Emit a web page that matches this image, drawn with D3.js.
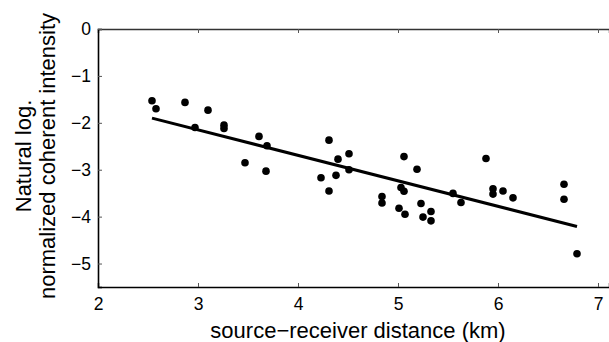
<!DOCTYPE html>
<html>
<head>
<meta charset="utf-8">
<script src="https://cdn.jsdelivr.net/npm/d3@7"></script>
<style>
  body { margin: 0; background: #fff; }
  text { font-family: "Liberation Sans", Arial, sans-serif; fill: #000; }
</style>
</head>
<body>
<div id="chart"></div>
<script>
// measured points
const distance = [2.54, 2.58, 2.87, 2.97, 3.10, 3.26, 3.26, 3.47, 3.61, 3.68,
                  3.69, 4.23, 4.31, 4.31, 4.38, 4.40, 4.51, 4.51, 4.84, 4.84,
                  5.01, 5.03, 5.06, 5.06, 5.07, 5.19, 5.23, 5.25, 5.33, 5.33,
                  5.55, 5.63, 5.88, 5.95, 5.95, 6.05, 6.15, 6.66, 6.66, 6.79];
const intensity = [-1.53, -1.70, -1.565, -2.10, -1.73, -2.05, -2.12, -2.85, -2.29, -3.03,
                   -2.49, -3.17, -2.37, -3.455, -3.12, -2.775, -2.66, -3.00, -3.57, -3.71,
                   -3.82, -3.38, -3.46, -2.72, -3.95, -2.99, -3.72, -4.01, -3.89, -4.09,
                   -3.505, -3.70, -2.76, -3.405, -3.52, -3.455, -3.60, -3.31, -3.63, -4.79];

// least squares line ends
const fitX = [2.54, 6.79];
const fitY = [-1.90, -4.21];

const xTicks = [2, 3, 4, 5, 6, 7];
const yTicks = [0, -1, -2, -3, -4, -5];

const W = 609, H = 342;
const margin = {top: 29, right: 0, bottom: 55, left: 98};
const width = W - margin.left - margin.right;
const height = H - margin.top - margin.bottom;

const svg = d3.select("#chart").append("svg")
    .attr("width", W)
    .attr("height", H);

const g = svg.append("g")
    .attr("transform", "translate(" + margin.left + "," + margin.top + ")");

const x = d3.scaleLinear().domain([2, 2 + width / 100]).range([0, width]);
const y = d3.scaleLinear().domain([-5.5, 0]).range([height, 0]);

const minus = d => d3.format("d")(d).replace("-", "\u2212");

// bottom axis, ticks pointing in
const xAxis = g.append("g")
    .attr("transform", "translate(0," + height + ")")
    .call(d3.axisBottom(x).tickValues(xTicks).tickSize(-4).tickPadding(10).tickFormat(d3.format("d")));
xAxis.select(".domain").attr("stroke", "#000").attr("stroke-width", 1.4);
xAxis.selectAll(".tick line").attr("stroke", "#555").attr("stroke-width", 1);
xAxis.selectAll(".tick text").attr("font-size", 17.5).attr("dy", "0.75em");

// top axis, no labels
const topAxis = g.append("g")
    .call(d3.axisTop(x).tickValues(xTicks).tickSize(-4).tickFormat(""));
topAxis.select(".domain").attr("stroke", "#333").attr("stroke-width", 1.4);
topAxis.selectAll(".tick line").attr("stroke", "#555");

// left axis
const yAxis = g.append("g")
    .call(d3.axisLeft(y).tickValues(yTicks).tickSize(-4).tickPadding(7).tickFormat(minus));
yAxis.select(".domain").attr("stroke", "#000").attr("stroke-width", 1.6);
yAxis.selectAll(".tick line").attr("stroke", "#555");
yAxis.selectAll(".tick text").attr("font-size", 17.5);

// fit line
const line = d3.line()
    .x(function(d) { return x(d[0]); })
    .y(function(d) { return y(d[1]); });

g.append("path")
    .datum(d3.zip(fitX, fitY))
    .attr("fill", "none")
    .attr("stroke", "#000")
    .attr("stroke-width", 3)
    .attr("d", line);

// dots
g.selectAll("circle")
    .data(d3.zip(distance, intensity))
    .enter().append("circle")
    .attr("cx", function(d) { return x(d[0]); })
    .attr("cy", function(d) { return y(d[1]); })
    .attr("r", 3.8)
    .attr("fill", "#000");

// axis titles
svg.append("text")
    .attr("x", 358)
    .attr("y", 338)
    .attr("text-anchor", "middle")
    .attr("font-size", 22)
    .text("source\u2212receiver distance (km)");

const ylab = svg.append("text")
    .attr("transform", "translate(31,156) rotate(-90)")
    .attr("text-anchor", "middle")
    .attr("font-size", 22);
ylab.append("tspan").attr("x", 0).attr("y", 0).text("Natural log.");
ylab.append("tspan").attr("x", 0).attr("y", 24).text("normalized coherent intensity");
</script>
</body>
</html>
